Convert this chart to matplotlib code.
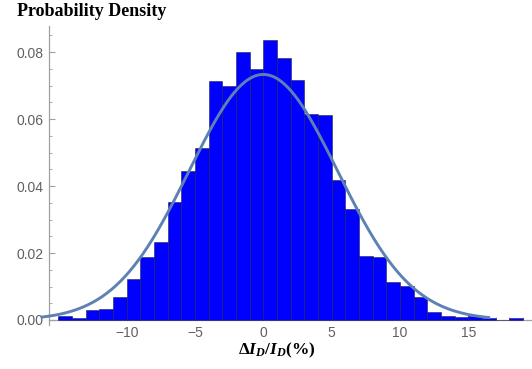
import numpy as np
import matplotlib.pyplot as plt
from matplotlib.ticker import MultipleLocator, FixedLocator

plt.rcParams['mathtext.fontset'] = 'custom'
plt.rcParams['mathtext.rm'] = 'Liberation Serif:bold'
plt.rcParams['mathtext.it'] = 'Liberation Serif:italic:bold'
plt.rcParams['mathtext.bf'] = 'Liberation Serif:bold'

# histogram of relative drain current deviation, unit-width bins
bin_edges = np.arange(-15, 20, 1)
density = [0.0013, 0.0007, 0.0030, 0.0034, 0.0070, 0.0122, 0.0187, 0.0234,
           0.0351, 0.0444, 0.0513, 0.0715, 0.0700, 0.0800, 0.0750, 0.0836,
           0.0782, 0.0717, 0.0616, 0.0613, 0.0417, 0.0331, 0.0190, 0.0187,
           0.0113, 0.0101, 0.0070, 0.0024, 0.0012, 0.0008, 0.0012, 0.0007,
           0.0000, 0.0005]

# fitted normal distribution
mu = 0.0
sigma = 5.44
fit_range = (-16.3, 16.6)

y_ticks = [0.0, 0.02, 0.04, 0.06, 0.08]
x_ticks = [-10, -5, 0, 5, 10, 15]

fig = plt.figure(figsize=(5.32, 3.69), dpi=100)
ax = fig.add_axes([0.0927, 0.1192, 0.9073, 0.8103])

ax.bar(bin_edges[:-1], density, width=1.0, align='edge', color='#0000ff',
       edgecolor=(0.12, 0.12, 0.3, 0.65), linewidth=0.6, zorder=3)

xs = np.linspace(fit_range[0], fit_range[1], 400)
pdf = np.exp(-(xs - mu) ** 2 / (2 * sigma ** 2)) / (sigma * np.sqrt(2 * np.pi))
ax.plot(xs, pdf, color='#5e81b5', linewidth=2.1, zorder=4, clip_on=False,
        solid_capstyle='butt')

ax.set_xlim(-15.66, 19.66)
ax.set_ylim(-0.0015, 0.0878)

for side in ['top', 'right']:
    ax.spines[side].set_visible(False)
ax.spines['bottom'].set_position(('data', 0))
for side in ['left', 'bottom']:
    ax.spines[side].set_color('#a0a0a0')
    ax.spines[side].set_linewidth(0.9)

ax.yaxis.set_major_locator(FixedLocator(y_ticks))
ax.yaxis.set_minor_locator(MultipleLocator(0.005))
ax.set_yticklabels([f'{v:.2f}' for v in y_ticks])
ax.xaxis.set_major_locator(FixedLocator(x_ticks))
ax.xaxis.set_minor_locator(MultipleLocator(1))

ax.tick_params(which='both', direction='in', color='#a0a0a0', labelcolor='#606060',
               labelsize=10, labelfontfamily='Liberation Sans')
ax.tick_params(which='major', length=4, width=0.8)
ax.tick_params(which='minor', length=2.5, width=0.6)
ax.tick_params(axis='y', pad=4)
ax.tick_params(axis='x', pad=4)

fig.text(17 / 532, 1 - 16 / 369, 'Probability Density', fontsize=13,
         fontweight='bold', family='Liberation Serif', va='baseline', ha='left')
fig.text(277 / 532, 1 - 354 / 369, r'$\Delta I_D/I_D(\%)$', fontsize=12.5,
         va='baseline', ha='center')

fig.savefig('out.png', dpi=100)
